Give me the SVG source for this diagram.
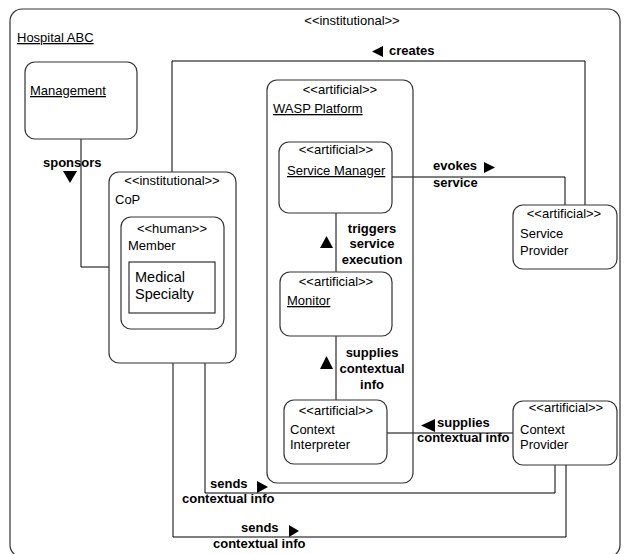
<svg xmlns="http://www.w3.org/2000/svg" width="626" height="554" viewBox="0 0 626 554">
<style>
.box{fill:#fff;stroke:#333;stroke-width:1.2}
.ln{fill:none;stroke:#000;stroke-width:1}
text{font-family:"Liberation Sans",Arial,sans-serif;font-size:13px;fill:#000}
.c{text-anchor:middle}
.b{font-weight:bold}
.u{text-decoration:underline}
.tri{fill:#000}
</style>
<rect width="626" height="554" fill="#fff"/>
<g id="hospital">
<rect class="box" x="10" y="9" width="610" height="548" rx="12"/>
<text class="c" x="352" y="25">&lt;&lt;institutional&gt;&gt;</text>
<text class="u" x="17" y="42">Hospital ABC</text>
</g>
<g id="connectors">
<polyline class="ln" points="81,139 81,267 110,267"/>
<polyline class="ln" points="172,172 172,61 585,61 585,205"/>
<polyline class="ln" points="392,177 565,177 565,205"/>
<line class="ln" x1="336" y1="213" x2="336" y2="272"/>
<line class="ln" x1="336" y1="336" x2="336" y2="400"/>
<line class="ln" x1="387" y1="433" x2="513" y2="433"/>
<polyline class="ln" points="205,363 205,493 555,493 555,464"/>
<polyline class="ln" points="173,363 173,537 566,537 566,464"/>
<polygon class="tri" points="63,171 77,171 70,183"/>
<text class="b" x="43" y="167">sponsors</text>
<polygon class="tri" points="383,46 383,57 372,51.5"/>
<text class="b" x="389" y="55">creates</text>
<polygon class="tri" points="484,162 484,173 495,167.5"/>
<text class="b" x="433" y="170">evokes</text>
<text class="b" x="433" y="187">service</text>
<polygon class="tri" points="320,248 333,248 326.5,236"/>
<text class="b c" x="372" y="233">triggers</text>
<text class="b c" x="372" y="248">service</text>
<text class="b c" x="372" y="264">execution</text>
<polygon class="tri" points="320,369 333,369 326.5,356"/>
<text class="b c" x="372" y="357">supplies</text>
<text class="b c" x="372" y="373">contextual</text>
<text class="b c" x="372" y="389">info</text>
<polygon class="tri" points="435,419 435,432 421,425.5"/>
<text class="b" x="437" y="427">supplies</text>
<text class="b" x="417" y="442">contextual info</text>
<polygon class="tri" points="257,481 257,493 268,487"/>
<text class="b" x="210" y="488">sends</text>
<text class="b" x="182" y="503">contextual info</text>
<polygon class="tri" points="289,525 289,537 299,531"/>
<text class="b" x="241" y="532">sends</text>
<text class="b" x="213" y="548">contextual info</text>
</g>
<g id="management">
<rect class="box" x="25" y="62" width="112" height="77" rx="10"/>
<text class="u" x="30" y="95">Management</text>
</g>
<g id="cop">
<rect class="box" x="109" y="172" width="127" height="191" rx="10"/>
<text class="c" x="172" y="185">&lt;&lt;institutional&gt;&gt;</text>
<text x="115" y="204">CoP</text>
</g>
<g id="member">
<rect class="box" x="121" y="217" width="103" height="112" rx="10"/>
<text class="c" x="172" y="233">&lt;&lt;human&gt;&gt;</text>
<text x="128" y="250">Member</text>
</g>
<g id="medical-specialty">
<rect class="box" x="129" y="262" width="86" height="51"/>
<text x="135" y="282" style="font-size:14.5px">Medical</text>
<text x="135" y="299" style="font-size:14.5px">Specialty</text>
</g>
<g id="wasp">
<rect class="box" x="267" y="80" width="146" height="403" rx="10" style="fill:none"/>
<text class="c" x="340" y="94">&lt;&lt;artificial&gt;&gt;</text>
<text class="u" x="273" y="113">WASP Platform</text>
</g>
<g id="service-manager">
<rect class="box" x="279" y="142" width="113" height="71" rx="10"/>
<text class="c" x="336" y="154">&lt;&lt;artificial&gt;&gt;</text>
<text class="u" x="287" y="175">Service Manager</text>
</g>
<g id="monitor">
<rect class="box" x="280" y="272" width="112" height="64" rx="10"/>
<text class="c" x="336" y="286">&lt;&lt;artificial&gt;&gt;</text>
<text class="u" x="287" y="305">Monitor</text>
</g>
<g id="context-interpreter">
<rect class="box" x="284" y="400" width="103" height="64" rx="10"/>
<text class="c" x="336" y="415">&lt;&lt;artificial&gt;&gt;</text>
<text x="290" y="434">Context</text>
<text x="290" y="449">Interpreter</text>
</g>
<g id="service-provider">
<rect class="box" x="513" y="205" width="104" height="64" rx="10"/>
<text class="c" x="564" y="218">&lt;&lt;artificial&gt;&gt;</text>
<text x="520" y="238">Service</text>
<text x="520" y="255">Provider</text>
</g>
<g id="context-provider">
<rect class="box" x="513" y="401" width="104" height="64" rx="10"/>
<text class="c" x="566" y="412">&lt;&lt;artificial&gt;&gt;</text>
<text x="520" y="434">Context</text>
<text x="520" y="449">Provider</text>
</g>
</svg>
